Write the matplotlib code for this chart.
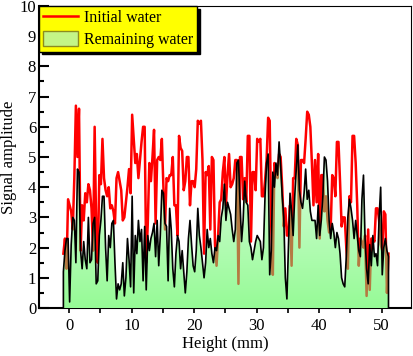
import numpy as np
import matplotlib
matplotlib.use("Agg")
import matplotlib.pyplot as plt
from matplotlib.colors import LinearSegmentedColormap
from matplotlib.lines import Line2D
from matplotlib.patches import Patch, Polygon

# profile range in mm, samples equally spaced (0.25 mm)
height_start = -0.9
height_end = 51.1

# signal amplitude, 20 samples per row (5 mm)
initial_water = [
    1.8, 2.3, 1.3, 3.6, 3.4, 3.2, 2.6, 4.3, 6.7, 5.0, 6.6, 1.9, 3.4, 2.9, 3.8, 3.5, 4.1, 3.9, 3.3, 1.9,
    6.0, 2.6, 1.5, 4.4, 4.1, 5.6, 4.3, 3.9, 3.7, 4.0, 3.3, 3.4, 3.2, 2.8, 4.3, 4.5, 4.2, 3.9, 2.9, 3.0,
    3.5, 4.0, 4.6, 3.8, 6.4, 5.6, 4.8, 5.1, 4.3, 4.9, 5.5, 6.0, 6.0, 1.5, 2.8, 4.8, 4.2, 5.0, 5.9, 2.8,
    4.9, 5.0, 4.9, 5.6, 4.0, 2.6, 4.3, 4.2, 4.4, 4.4, 5.0, 3.4, 3.4, 2.4, 5.7, 5.3, 5.2, 3.9, 4.2, 5.0,
    5.0, 3.4, 4.2, 4.2, 4.0, 4.6, 6.2, 6.1, 6.2, 4.9, 1.8, 4.5, 4.4, 4.7, 2.6, 5.0, 4.9, 2.1, 1.4, 2.4,
    3.5, 3.6, 4.5, 5.0, 3.4, 4.4, 5.1, 4.0, 4.1, 4.3, 4.9, 4.9, 0.8, 5.0, 5.0, 3.6, 4.3, 3.5, 5.7, 5.7,
    2.2, 4.5, 4.5, 3.9, 5.6, 5.5, 5.6, 3.7, 3.7, 4.2, 4.9, 6.3, 6.2, 2.7, 1.1, 4.8, 4.6, 4.3, 5.1, 5.0,
    4.0, 2.7, 3.3, 2.4, 2.4, 3.4, 1.4, 4.3, 4.3, 5.6, 5.4, 2.0, 4.9, 4.9, 4.8, 5.6, 6.5, 6.4, 6.0, 4.8,
    3.4, 4.9, 3.5, 5.1, 2.3, 4.4, 4.4, 3.2, 3.7, 2.9, 2.5, 2.6, 4.4, 4.3, 3.7, 5.5, 5.5, 4.2, 2.7, 3.0,
    3.0, 2.0, 1.3, 3.7, 3.5, 5.7, 5.7, 4.8, 3.4, 1.4, 2.3, 2.2, 2.0, 2.4, 0.4, 2.6, 0.6, 2.3, 2.3, 2.2,
    3.3, 3.3, 2.9, 2.1, 1.9, 3.2, 3.1, 0.5, 1.8,
]

remaining_water = [
    1.2, 1.9, 2.3, 2.3, 0.2, 2.1, 3.0, 2.9, 1.5, 4.6, 4.5, 1.9, 1.3, 2.2, 1.6, 1.3, 3.0, 1.5, 1.6, 2.8,
    3.0, 0.8, 0.9, 2.4, 2.9, 3.7, 3.7, 2.0, 0.9, 2.4, 2.0, 2.8, 2.9, 1.5, 0.3, 0.8, 0.6, 0.8, 1.5, 0.4,
    1.0, 2.3, 1.6, 0.7, 3.7, 0.5, 2.4, 1.8, 2.9, 2.2, 2.6, 0.9, 2.7, 0.6, 2.4, 1.9, 2.3, 2.5, 2.8, 1.7,
    2.9, 1.4, 2.4, 3.9, 3.8, 2.8, 2.7, 0.9, 3.3, 2.6, 1.3, 0.7, 1.8, 2.4, 2.2, 1.3, 1.9, 1.2, 0.5, 1.2,
    2.3, 2.9, 2.1, 1.4, 1.2, 1.9, 3.3, 2.4, 2.0, 1.5, 1.0, 1.5, 2.6, 2.0, 2.3, 1.8, 1.5, 2.0, 1.9, 2.4,
    2.2, 3.0, 3.3, 4.1, 2.9, 3.5, 3.3, 3.1, 2.6, 2.2, 2.6, 4.8, 4.9, 3.5, 2.2, 2.9, 4.2, 3.5, 3.4, 2.2,
    2.0, 1.6, 1.9, 2.2, 2.4, 2.3, 2.2, 1.6, 2.0, 3.7, 4.8, 5.1, 1.1, 1.9, 4.5, 4.0, 4.8, 4.4, 5.5, 4.7,
    3.7, 3.0, 1.0, 0.3, 2.1, 3.8, 3.2, 2.4, 3.7, 4.6, 5.4, 3.9, 3.5, 3.3, 3.8, 4.6, 3.6, 3.9, 3.2, 2.9,
    2.9, 2.9, 2.3, 3.4, 2.4, 2.9, 3.7, 5.0, 4.9, 4.2, 2.9, 2.3, 2.8, 2.5, 2.0, 2.5, 2.3, 1.8, 1.0, 0.8,
    0.7, 1.7, 3.0, 3.6, 3.3, 2.9, 2.3, 2.9, 2.4, 1.9, 1.7, 3.6, 4.4, 2.3, 1.3, 0.8, 2.1, 1.4, 2.4, 1.7,
    1.8, 1.4, 3.0, 4.0, 1.1, 2.0, 2.3, 1.9, 1.7,
]

legend_labels = ['Initial water', 'Remaining water']

plt.rcParams['font.family'] = ['Liberation Serif', 'DejaVu Serif']
plt.rcParams['font.size'] = 12

fig = plt.figure(figsize=(4.14, 3.56), dpi=100)
ax = fig.add_axes([39 / 414, 48 / 356, 372 / 414, 302 / 356])

height = np.linspace(height_start, height_end, len(initial_water))
initial = np.array(initial_water)
remaining = np.array(remaining_water)

# red trace sits underneath the green area
ax.plot(height, initial, color='red', lw=1.8, zorder=2)

# remaining water area, closed down to zero at both ends
px = np.concatenate([[height[0]], height, [height[-1]]])
py = np.concatenate([[0], remaining, [0]])
area = Polygon(np.column_stack([px, py]), closed=True, facecolor='none', edgecolor='none')
ax.add_patch(area)

# vertical green gradient, clipped to the area
green = LinearSegmentedColormap.from_list('water', ['#96fa96', '#eefff2'])
grad = np.linspace(0, 1, 256).reshape(-1, 1)
img = ax.imshow(grad, cmap=green, origin='lower', aspect='auto',
                extent=[height[0], height[-1], 0, 6.5], zorder=3)
img.set_clip_path(area)

# where the red trace dips inside the green it shows brown
brown, = ax.plot(height, initial, color='#b57a42', lw=1.8, zorder=4)
brown.set_clip_path(area)

ax.plot(px, py, color='black', lw=1.2, zorder=5)

# axes
ax.set_xlim(-4.8, 54.7)
ax.set_ylim(0, 10)
ax.set_xticks(np.arange(0, 51, 10))
ax.set_xticks(np.arange(0, 55, 5), minor=True)
ax.set_yticks(np.arange(0, 11, 1))
ax.set_yticks(np.arange(0, 10.01, 0.5), minor=True)
ax.tick_params(axis='x', which='both', direction='out', length=3.6, width=1.2, pad=3.5, top=False)
ax.tick_params(axis='y', which='major', direction='in', length=7.5, width=1.5, pad=2, right=False)
ax.tick_params(axis='y', which='minor', direction='in', length=3.5, width=1.5, right=False)
for side in ['left', 'bottom']:
    ax.spines[side].set_linewidth(1.5)
for side in ['top', 'right']:
    ax.spines[side].set_linewidth(0.8)

ax.set_xlabel('Height (mm)', labelpad=1.5)
ax.set_ylabel('Signal amplitude', labelpad=2)

# legend
handles = [Line2D([], [], color='red', lw=1.8),
           Patch(facecolor='#c4f587', edgecolor='#8c8c1e')]
leg = ax.legend(handles, legend_labels, loc='upper left', bbox_to_anchor=(0, 1),
                borderaxespad=0, fancybox=False, facecolor='yellow', edgecolor='black',
                framealpha=1, shadow={'color': 'black', 'alpha': 1},
                fontsize=11.5, handlelength=2.2, handleheight=1.05, handletextpad=0.4,
                borderpad=0.22, labelspacing=0.3)
leg.get_frame().set_linewidth(1.0)
leg.set_zorder(10)

fig.savefig('out.png', dpi=100)
